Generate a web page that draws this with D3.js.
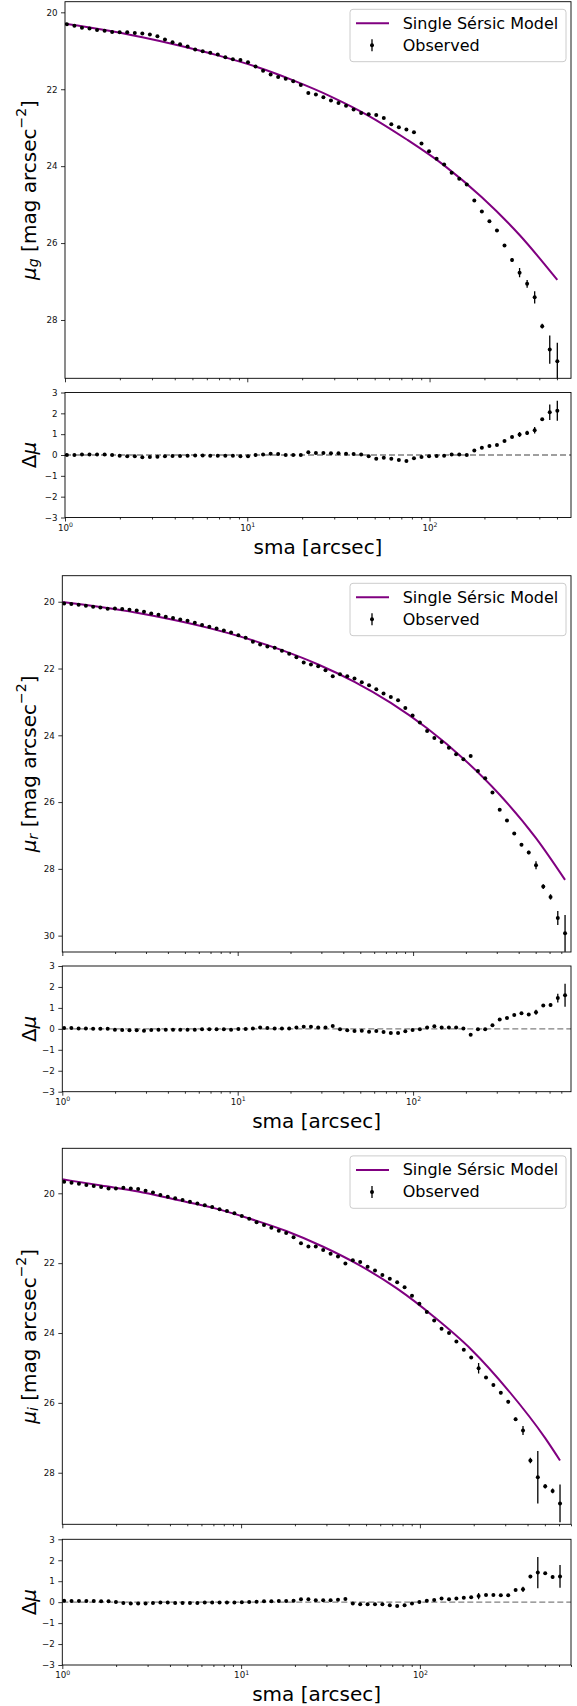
<!DOCTYPE html>
<html><head><meta charset="utf-8">
<script src="https://cdn.jsdelivr.net/npm/d3@7"></script>
<style>body{margin:0;background:#fff}svg{display:block}text{font-family:"DejaVu Sans",sans-serif}</style>
</head><body><svg id="c" width="577" height="1706"></svg>
<script>
// semi-major axis samples [arcsec]
const sma = [1.024,1.126,1.239,1.363,1.499,1.649,1.814,1.995,2.195,2.415,2.656,2.922,3.214,3.535,3.889,4.278,4.705,5.176,5.694,6.263,
6.889,7.578,8.336,9.170,10.09,11.10,12.21,13.43,14.77,16.25,17.87,19.66,21.62,23.79,26.16,28.78,31.66,34.82,38.31,42.14,
46.35,50.99,56.09,61.69,67.86,74.65,82.11,90.32,99.35,109.3,120.2,132.2,145.5,160.0,176.0,193.6,213.0,234.3,257.7,283.5,
311.8,343.0,377.3,415.0,456.5,502.2,552.4,607.7,668.4,735.3];

// g band
const gMu = [20.31,20.35,20.40,20.42,20.46,20.48,20.51,20.52,20.52,20.54,20.55,20.58,20.62,20.71,20.78,20.83,20.89,20.97,21.01,21.05,
21.10,21.17,21.22,21.24,21.30,21.41,21.52,21.62,21.68,21.73,21.79,21.89,22.10,22.14,22.21,22.29,22.36,22.43,22.53,22.62,
22.65,22.67,22.75,22.91,22.99,23.05,23.12,23.41,23.61,23.81,23.96,24.17,24.33,24.48,24.89,25.18,25.43,25.67,26.06,26.44,
26.77,27.06,27.41,28.16,28.77,29.07];
const gRes = [0.00,0.00,0.02,0.02,0.02,0.02,0.00,-0.03,-0.06,-0.06,-0.11,-0.10,-0.08,-0.06,-0.05,-0.05,-0.03,-0.02,-0.02,-0.03,
-0.03,-0.03,-0.03,-0.06,-0.06,0.00,0.02,0.06,0.05,0.00,0.00,0.00,0.13,0.10,0.10,0.08,0.08,0.06,0.05,0.02,
-0.06,-0.18,-0.13,-0.18,-0.24,-0.29,-0.16,-0.10,-0.06,-0.05,-0.03,0.03,0.03,0.00,0.22,0.35,0.43,0.48,0.67,0.87,
0.98,1.06,1.19,1.72,2.05,2.13];
const gErr = [0.01,0.01,0.01,0.01,0.01,0.01,0.01,0.01,0.01,0.01,0.01,0.01,0.01,0.01,0.01,0.01,0.01,0.01,0.01,0.01,
0.01,0.01,0.01,0.01,0.01,0.01,0.01,0.01,0.01,0.01,0.01,0.01,0.01,0.01,0.01,0.01,0.01,0.01,0.01,0.01,
0.01,0.01,0.01,0.01,0.01,0.01,0.01,0.01,0.01,0.01,0.01,0.01,0.01,0.01,0.02,0.02,0.02,0.02,0.03,0.05,
0.12,0.10,0.16,0.06,0.37,0.48];
const gModelSma = [1.0,1.649,2.656,4.278,6.889,11.10,17.87,28.78,46.35,74.65,120.2,193.6,311.8,502.2];
const gModelMu = [20.30,20.46,20.65,20.87,21.12,21.41,21.77,22.19,22.69,23.30,23.98,24.81,25.79,26.96];
const gTicks = [20,22,24,26,28];

// r band
const rMu = [20.05,20.07,20.09,20.12,20.15,20.17,20.21,20.20,20.22,20.24,20.26,20.30,20.35,20.39,20.45,20.49,20.53,20.57,20.63,20.70,
20.75,20.80,20.86,20.92,21.00,21.08,21.20,21.28,21.34,21.38,21.47,21.56,21.66,21.82,21.88,21.93,22.05,22.23,22.17,22.23,
22.30,22.41,22.50,22.62,22.75,22.85,22.95,23.18,23.41,23.62,23.87,24.08,24.20,24.37,24.57,24.72,24.62,25.07,25.29,25.71,
26.23,26.55,26.94,27.28,27.51,27.89,28.53,28.84,29.47,29.93];
const rRes = [0.04,0.04,0.02,0.02,0.01,0.01,0.01,-0.04,-0.06,-0.07,-0.07,-0.09,-0.06,-0.04,-0.04,-0.04,-0.04,-0.04,-0.04,-0.02,
-0.02,-0.02,-0.02,-0.04,-0.01,-0.01,0.02,0.06,0.04,0.02,0.02,0.02,0.07,0.10,0.10,0.06,0.06,0.14,-0.02,-0.07,
-0.10,-0.09,-0.14,-0.10,-0.15,-0.20,-0.20,-0.12,-0.06,-0.02,0.07,0.12,0.07,0.06,0.07,0.02,-0.28,-0.02,-0.02,0.17,
0.45,0.52,0.66,0.74,0.69,0.79,1.12,1.14,1.47,1.60];
const rErr = [0.01,0.01,0.01,0.01,0.01,0.01,0.01,0.01,0.01,0.01,0.01,0.01,0.01,0.01,0.01,0.01,0.01,0.01,0.01,0.01,
0.01,0.01,0.01,0.01,0.01,0.01,0.01,0.01,0.01,0.01,0.01,0.01,0.01,0.01,0.01,0.01,0.01,0.01,0.01,0.01,
0.01,0.01,0.01,0.01,0.01,0.01,0.01,0.01,0.01,0.01,0.01,0.01,0.01,0.01,0.01,0.01,0.01,0.01,0.01,0.02,
0.03,0.03,0.03,0.04,0.05,0.12,0.07,0.08,0.21,0.55];
const rModelSma = [1.0,1.649,2.656,4.278,6.889,11.10,17.87,28.78,46.35,74.65,120.2,193.6,311.8,502.2,735.3];
const rModelMu = [20.01,20.16,20.33,20.54,20.79,21.09,21.45,21.88,22.40,23.03,23.79,24.70,25.78,27.08,28.33];
const rTicks = [20,22,24,26,28,30];

// i band
const iMu = [19.67,19.70,19.73,19.76,19.79,19.82,19.86,19.86,19.84,19.86,19.88,19.93,19.98,20.05,20.10,20.14,20.19,20.24,20.29,20.34,
20.39,20.46,20.51,20.57,20.65,20.73,20.83,20.91,20.99,21.07,21.14,21.26,21.43,21.52,21.52,21.62,21.73,21.81,22.01,21.92,
21.97,22.10,22.21,22.34,22.45,22.55,22.69,22.93,23.16,23.40,23.64,23.88,24.00,24.24,24.48,24.70,25.01,25.27,25.49,25.71,
25.97,26.47,26.79,27.65,28.13,28.39,28.52,28.88];
const iRes = [0.07,0.06,0.06,0.06,0.06,0.04,0.04,0.01,-0.04,-0.07,-0.07,-0.06,-0.04,-0.02,-0.02,-0.04,-0.04,-0.04,-0.04,-0.02,
-0.02,-0.02,-0.02,-0.02,-0.01,0.01,0.02,0.04,0.04,0.06,0.06,0.07,0.14,0.14,0.09,0.09,0.09,0.12,0.15,-0.06,
-0.10,-0.10,-0.10,-0.10,-0.15,-0.18,-0.15,-0.07,0.01,0.07,0.10,0.17,0.14,0.17,0.21,0.23,0.29,0.34,0.34,0.33,
0.33,0.58,0.61,1.22,1.41,1.38,1.20,1.23];
const iErr = [0.01,0.01,0.01,0.01,0.01,0.01,0.01,0.01,0.01,0.01,0.01,0.01,0.01,0.01,0.01,0.01,0.01,0.01,0.01,0.01,
0.01,0.01,0.01,0.01,0.01,0.01,0.01,0.01,0.01,0.01,0.01,0.01,0.01,0.01,0.01,0.01,0.01,0.01,0.01,0.01,
0.01,0.01,0.01,0.01,0.01,0.01,0.01,0.01,0.01,0.01,0.01,0.01,0.01,0.01,0.01,0.03,0.15,0.04,0.04,0.04,
0.04,0.05,0.13,0.08,0.75,0.06,0.07,0.54];
const iModelSma = [1.0,1.649,2.656,4.278,6.889,11.10,17.87,28.78,46.35,74.65,120.2,193.6,311.8,502.2,607.7];
const iModelMu = [19.60,19.78,19.95,20.18,20.41,20.72,21.08,21.53,22.07,22.73,23.54,24.47,25.64,27.01,27.65];
const iTicks = [20,22,24,26,28];

const resTicks = [-3,-2,-1,0,1,2,3];
const xMajor = [1,10,100];
const xMinorBase = [2,3,4,5,6,7,8,9];

const svg = d3.select("#c");
const defs = svg.append("defs");
const FS_TICK = 8.7, FS_LAB = 20, FS_LEG = 16;

function minorTicks(xMax){
  const out=[];
  [1,10,100].forEach(b=>xMinorBase.forEach(m=>{ if(m*b<=xMax) out.push(m*b); }));
  return out;
}

function styleAxis(g){
  g.select(".domain").remove();
  g.selectAll(".tick line").attr("stroke","#000").attr("stroke-width",0.8);
  g.selectAll(".tick text").attr("fill","#111").attr("font-size",FS_TICK).attr("font-family","DejaVu Sans");
}

function drawPanel(p){
  const x = d3.scaleLog().domain([1,p.xMax]).range([p.left,p.right]);
  const yM = d3.scaleLinear().domain([p.muTop,p.muBottom]).range([p.mainTop,p.mainBottom]);
  const yR = d3.scaleLinear().domain([3,-3]).range([p.resTop,p.resBottom]);
  const n = p.mu.length;
  const pts = d3.range(n).map(k=>({s:sma[k], mu:p.mu[k], res:p.res[k], err:p.err[k]}));

  ["m","r"].forEach(t=>{
    defs.append("clipPath").attr("id",p.id+t).append("rect")
      .attr("x",p.left).attr("width",p.right-p.left)
      .attr("y",t==="m"?p.mainTop:p.resTop)
      .attr("height",t==="m"?p.mainBottom-p.mainTop:p.resBottom-p.resTop);
  });

  // ---- main panel ----
  const gm = svg.append("g").attr("clip-path",`url(#${p.id}m)`);
  const line = d3.line().x(d=>x(d[0])).y(d=>yM(d[1])).curve(d3.curveMonotoneX);
  gm.append("path").datum(p.modelSma.map((s,k)=>[s,p.modelMu[k]]))
    .attr("d",line).attr("fill","none").attr("stroke","#800080").attr("stroke-width",2);
  gm.selectAll("line.eb").data(pts).join("line").attr("class","eb")
    .attr("x1",d=>x(d.s)).attr("x2",d=>x(d.s))
    .attr("y1",d=>yM(d.mu-d.err)).attr("y2",d=>yM(d.mu+d.err))
    .attr("stroke","#000").attr("stroke-width",1.3);
  gm.selectAll("circle").data(pts).join("circle")
    .attr("cx",d=>x(d.s)).attr("cy",d=>yM(d.mu)).attr("r",2).attr("fill","#000");

  // axes main
  const ayM = svg.append("g").attr("transform",`translate(${p.left},0)`)
    .call(d3.axisLeft(yM).tickValues(p.yTicks).tickSize(4).tickPadding(3.5).tickFormat(d3.format("d")));
  styleAxis(ayM);
  const axMmaj = svg.append("g").attr("transform",`translate(0,${p.mainBottom})`)
    .call(d3.axisBottom(x).tickValues(xMajor).tickSize(4).tickFormat(""));
  styleAxis(axMmaj);
  const axMmin = svg.append("g").attr("transform",`translate(0,${p.mainBottom})`)
    .call(d3.axisBottom(x).tickValues(minorTicks(p.xMax)).tickSize(2).tickFormat(""));
  styleAxis(axMmin);
  svg.append("rect").attr("x",p.left).attr("y",p.mainTop).attr("width",p.right-p.left)
    .attr("height",p.mainBottom-p.mainTop).attr("fill","none").attr("stroke","#000").attr("stroke-width",0.9);

  // y label main
  const yl = svg.append("text").attr("transform",`translate(29,${(p.mainTop+p.mainBottom)/2}) rotate(-90)`)
    .attr("text-anchor","middle").attr("dominant-baseline","central").attr("font-size",FS_LAB).attr("fill","#000");
  yl.append("tspan").attr("font-style","italic").text("μ");
  yl.append("tspan").attr("font-style","italic").attr("font-size",14).attr("dy",4).text(p.band);
  yl.append("tspan").attr("dy",-4).text(" [mag arcsec");
  yl.append("tspan").attr("font-size",14).attr("dy",-8).text("−2");
  yl.append("tspan").attr("dy",8).text("]");

  // legend
  const lr = p.right-5, ll = lr-216, lt = p.mainTop+7.6;
  svg.append("rect").attr("x",ll).attr("y",lt).attr("width",216).attr("height",52.4).attr("rx",3)
    .attr("fill","#fff").attr("fill-opacity",0.8).attr("stroke","#cccccc").attr("stroke-width",1);
  svg.append("line").attr("x1",ll+6).attr("x2",ll+39).attr("y1",lt+14).attr("y2",lt+14)
    .attr("stroke","#800080").attr("stroke-width",2);
  svg.append("line").attr("x1",ll+22).attr("x2",ll+22).attr("y1",lt+30).attr("y2",lt+42)
    .attr("stroke","#000").attr("stroke-width",1.3);
  svg.append("circle").attr("cx",ll+22).attr("cy",lt+36).attr("r",2).attr("fill","#000");
  svg.append("text").attr("x",ll+52.7).attr("y",lt+14).attr("dominant-baseline","central")
    .attr("font-size",FS_LEG).attr("fill","#000").text("Single Sérsic Model");
  svg.append("text").attr("x",ll+52.7).attr("y",lt+36).attr("dominant-baseline","central")
    .attr("font-size",FS_LEG).attr("fill","#000").text("Observed");

  // ---- residual panel ----
  const gr = svg.append("g").attr("clip-path",`url(#${p.id}r)`);
  gr.append("line").attr("x1",p.left).attr("x2",p.right).attr("y1",yR(0)).attr("y2",yR(0))
    .attr("stroke","#808080").attr("stroke-width",1.3).attr("stroke-dasharray","6,3");
  gr.selectAll("line.eb").data(pts).join("line").attr("class","eb")
    .attr("x1",d=>x(d.s)).attr("x2",d=>x(d.s))
    .attr("y1",d=>yR(d.res-d.err)).attr("y2",d=>yR(d.res+d.err))
    .attr("stroke","#000").attr("stroke-width",1.3);
  gr.selectAll("circle").data(pts).join("circle")
    .attr("cx",d=>x(d.s)).attr("cy",d=>yR(d.res)).attr("r",2).attr("fill","#000");

  const ayR = svg.append("g").attr("transform",`translate(${p.left},0)`)
    .call(d3.axisLeft(yR).tickValues(resTicks).tickSize(4).tickPadding(3.5)
      .tickFormat(d=>d<0?"−"+Math.abs(d):String(d)));
  styleAxis(ayR);
  const axRmaj = svg.append("g").attr("transform",`translate(0,${p.resBottom})`)
    .call(d3.axisBottom(x).tickValues(xMajor).tickSize(4).tickPadding(3));
  styleAxis(axRmaj);
  axRmaj.selectAll(".tick text").each(function(d){
    const t=d3.select(this); t.text("10");
    t.append("tspan").attr("dy",-3.5).attr("font-size",6.2).text(Math.round(Math.log10(d)));
  });
  const axRmin = svg.append("g").attr("transform",`translate(0,${p.resBottom})`)
    .call(d3.axisBottom(x).tickValues(minorTicks(p.xMax)).tickSize(2).tickFormat(""));
  styleAxis(axRmin);
  svg.append("rect").attr("x",p.left).attr("y",p.resTop).attr("width",p.right-p.left)
    .attr("height",p.resBottom-p.resTop).attr("fill","none").attr("stroke","#000").attr("stroke-width",0.9);

  const rl = svg.append("text").attr("transform",`translate(29,${(p.resTop+p.resBottom)/2}) rotate(-90)`)
    .attr("text-anchor","middle").attr("dominant-baseline","central").attr("font-size",FS_LAB).attr("fill","#000");
  rl.append("tspan").text("Δ");
  rl.append("tspan").attr("font-style","italic").text("μ");

  svg.append("text").attr("x",(p.left+p.right)/2).attr("y",p.resBottom+36)
    .attr("text-anchor","middle").attr("font-size",FS_LAB)
    .attr("fill","#000").text("sma [arcsec]");
}

drawPanel({id:"g", band:"g", mu:gMu, res:gRes, err:gErr, modelSma:gModelSma, modelMu:gModelMu, yTicks:gTicks,
  xMax:597, left:65, right:571, mainTop:1.7, mainBottom:378.3, muTop:19.724, muBottom:29.516, resTop:392.5, resBottom:517.5});
drawPanel({id:"r", band:"r", mu:rMu, res:rRes, err:rErr, modelSma:rModelSma, modelMu:rModelMu, yTicks:rTicks,
  xMax:795, left:62.3, right:571, mainTop:575.7, mainBottom:952, muTop:19.22, muBottom:30.49, resTop:966, resBottom:1091.7});
drawPanel({id:"i", band:"i", mu:iMu, res:iRes, err:iErr, modelSma:iModelSma, modelMu:iModelMu, yTicks:iTicks,
  xMax:700, left:62.3, right:571, mainTop:1148.3, mainBottom:1524.3, muTop:18.712, muBottom:29.476, resTop:1539.3, resBottom:1665});
</script></body></html>
